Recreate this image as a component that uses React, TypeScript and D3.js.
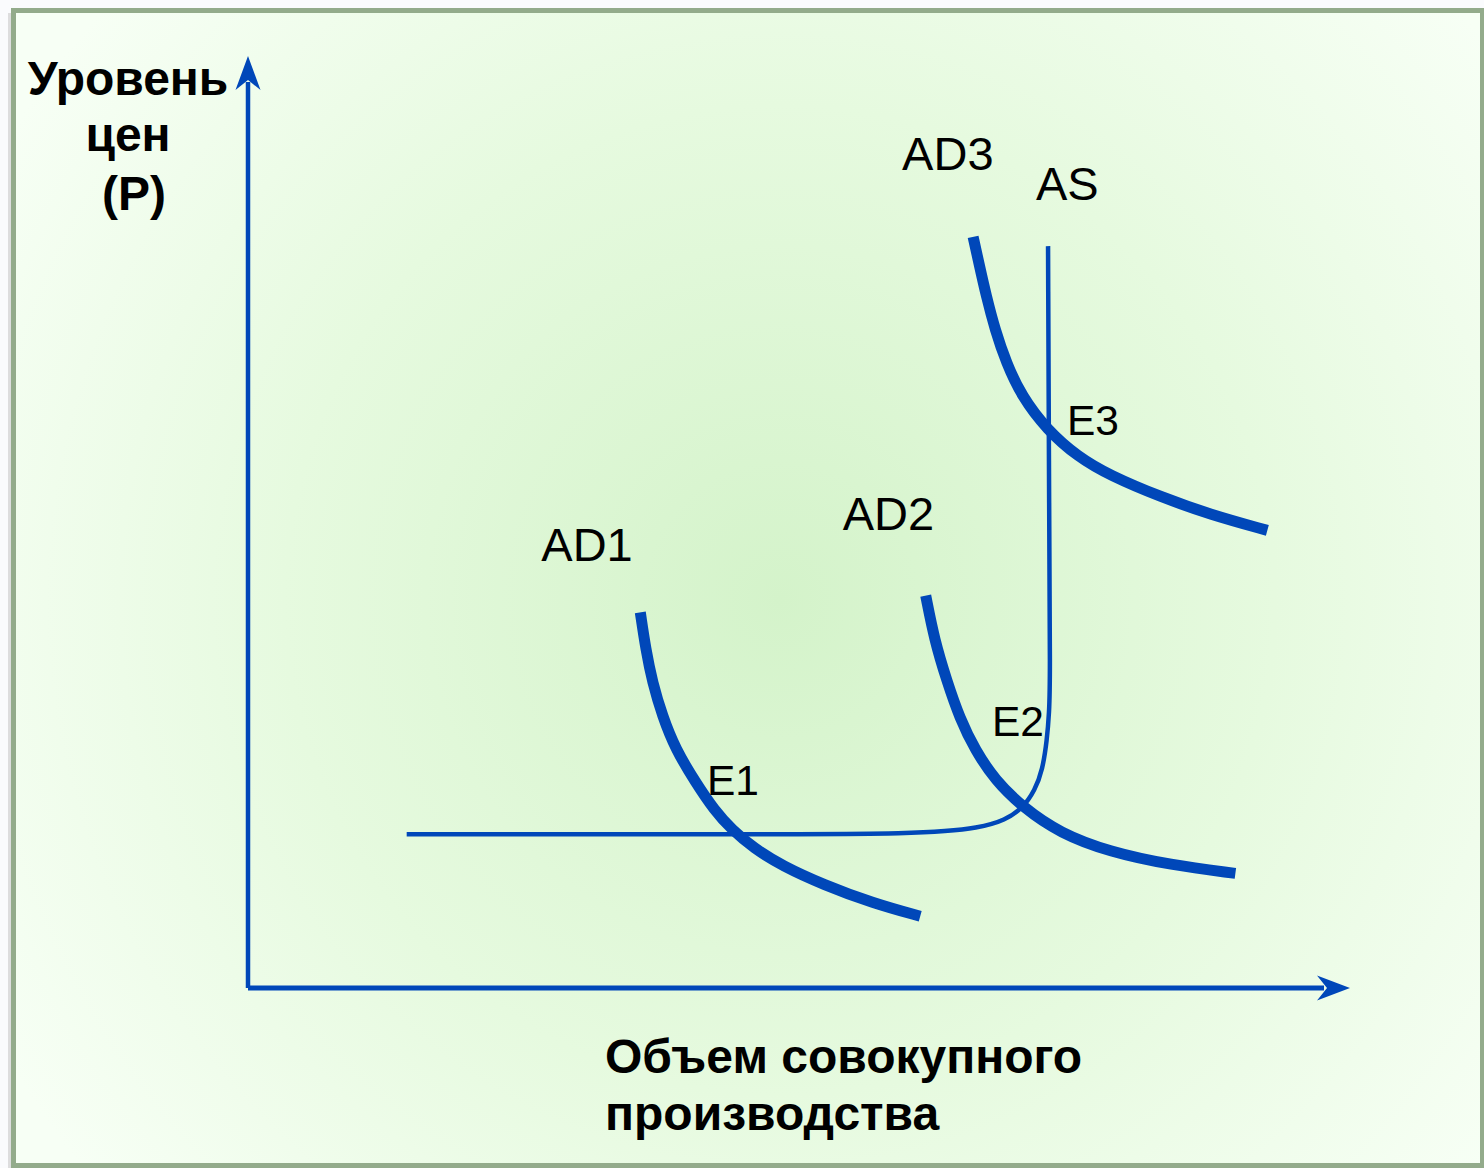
import React from 'react';
import * as d3 from 'd3';

// quantity (x) and price level (y), both in 0..100 units
const ad1X = [35.6, 36.1, 36.7, 37.6, 38.8, 40.6, 42.3, 43.9, 45.9, 48.5, 52.2, 56.7, 61.0];
const ad1Y = [40.3, 36.3, 32.8, 29.2, 25.6, 22.1, 19.1, 17.0, 15.0, 13.1, 11.1, 9.1, 7.7];

const ad2X = [61.5, 62.3, 63.4, 64.6, 66.0, 67.8, 70.3, 73.7, 78.2, 83.7, 89.6];
const ad2Y = [42.1, 37.3, 33.0, 28.9, 25.5, 22.3, 19.4, 16.6, 14.6, 13.2, 12.3];

const ad3X = [65.8, 66.3, 67.0, 67.8, 68.8, 70.2, 72.5, 75.3, 78.2, 82.8, 87.3, 92.5];
const ad3Y = [80.6, 77.9, 74.2, 70.6, 67.1, 63.5, 59.9, 57.0, 55.0, 52.7, 50.8, 49.1];

const asX = [14.4, 40.0, 61.9, 66.4, 68.7, 70.3, 71.4, 72.1, 72.5, 72.7, 72.8, 72.7, 72.6];
const asY = [16.5, 16.5, 16.5, 17.2, 18.0, 19.3, 21.2, 23.4, 26.6, 29.5, 33.0, 50.0, 79.6];

const curveNames = ['AD1', 'AD2', 'AD3'];
const pointNames = ['E1', 'E2', 'E3'];

const yTitle = ['Уровень', 'цен', '(P)'];
const xTitle = ['Объем совокупного', 'производства'];

const W = 1484;
const H = 1168;
const BLUE = '#0047b9';
const FONT = '"Liberation Sans", Arial, sans-serif';

const zip = (xs: number[], ys: number[]) => xs.map((x, i) => [x, ys[i]] as [number, number]);

export default function App() {
  const x = d3.scaleLinear().domain([0, 100]).range([248, 1350]);
  const y = d3.scaleLinear().domain([0, 100]).range([988, 56]);

  const line = d3
    .line<[number, number]>()
    .x(d => x(d[0]))
    .y(d => y(d[1]))
    .curve(d3.curveBasis);

  const adCurves = [zip(ad1X, ad1Y), zip(ad2X, ad2Y), zip(ad3X, ad3Y)];
  const asCurve = zip(asX, asY);

  // label offsets relative to the top of each AD curve
  const adLabel = [
    [x(ad1X[0]) - 99, y(ad1Y[0]) - 51],
    [x(ad2X[0]) - 83, y(ad2Y[0]) - 66],
    [x(ad3X[0]) - 71, y(ad3Y[0]) - 67],
  ];
  const eLabel = [
    [707, 795],
    [992, 736],
    [1067, 435],
  ];

  const x0 = x(0), y0 = y(0), x1 = x(100), y1 = y(100);

  return (
    <svg width={W} height={H} style={{ position: 'absolute', left: 0, top: 0 }}>
      <defs>
        <radialGradient id="bg" gradientUnits="userSpaceOnUse" cx={780} cy={600} r={900}>
          <stop offset="0" stopColor="#d4f3ca" />
          <stop offset="0.55" stopColor="#e6fadf" />
          <stop offset="1" stopColor="#f7fff5" />
        </radialGradient>
      </defs>
      <rect x={0} y={0} width={W} height={H} fill="#fafbfd" />
      <rect x={8} y={13} width={6} height={H} fill="#c9c9c9" opacity={0.6} />
      <rect x={13.5} y={10.5} width={1469} height={1155} fill="url(#bg)" stroke="#93ab8b" strokeWidth={5} />

      {/* axes */}
      <line x1={x0} y1={y0} x2={x0} y2={y1 + 26} stroke={BLUE} strokeWidth={4.5} />
      <line x1={x0} y1={y0} x2={x1 - 26} y2={y0} stroke={BLUE} strokeWidth={5} />
      <path d={`M${x0},${y1} L${x0 + 12.5},${y1 + 34} L${x0},${y1 + 24} L${x0 - 12.5},${y1 + 34} Z`} fill={BLUE} />
      <path d={`M${x1},${y0} L${x1 - 33},${y0 + 12.5} L${x1 - 23},${y0} L${x1 - 33},${y0 - 12.5} Z`} fill={BLUE} />

      {/* AS */}
      <path d={line(asCurve) || ''} fill="none" stroke={BLUE} strokeWidth={4.5} />

      {/* AD curves */}
      {adCurves.map((c, i) => (
        <path key={curveNames[i]} d={line(c) || ''} fill="none" stroke={BLUE} strokeWidth={11} strokeLinecap="butt" />
      ))}

      <g fontFamily={FONT} fill="#000">
        {curveNames.map((n, i) => (
          <text key={n} x={adLabel[i][0]} y={adLabel[i][1]} fontSize={47}>{n}</text>
        ))}
        <text x={1036} y={200} fontSize={47}>AS</text>
        {pointNames.map((n, i) => (
          <text key={n} x={eLabel[i][0]} y={eLabel[i][1]} fontSize={42.5}>{n}</text>
        ))}

        <g fontWeight="bold" fontSize={48} textAnchor="middle">
          <text x={128} y={95}>{yTitle[0]}</text>
          <text x={128} y={151}>{yTitle[1]}</text>
          <text x={134} y={210}>{yTitle[2]}</text>
        </g>
        <g fontWeight="bold" fontSize={48}>
          <text x={605} y={1073}>{xTitle[0]}</text>
          <text x={605} y={1130}>{xTitle[1]}</text>
        </g>
      </g>
    </svg>
  );
}
